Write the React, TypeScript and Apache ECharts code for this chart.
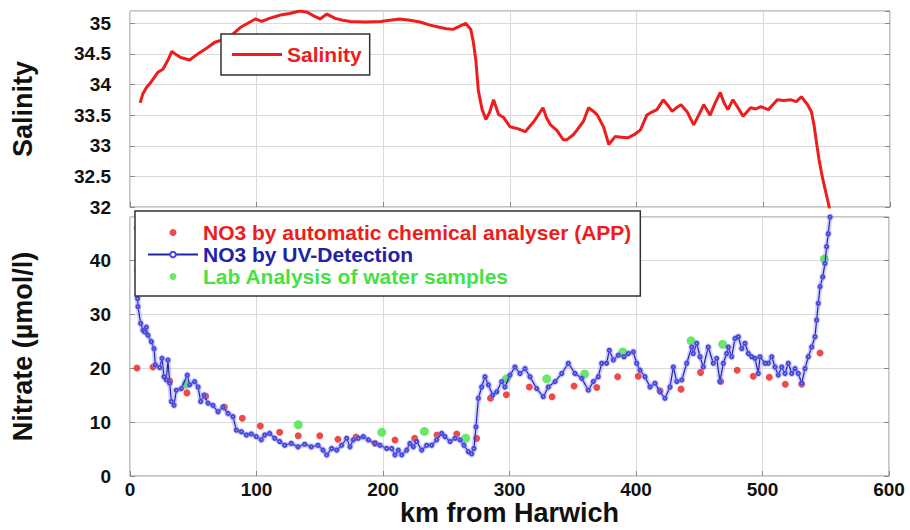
import React, { useEffect, useRef } from "react";
import * as echarts from "echarts";

// Salinity along the transect (top panel)
const salKm = [8, 10, 13, 17, 22, 26, 30, 33, 37, 40, 47, 55, 61, 67, 75, 81, 87, 93, 99, 104, 110, 115, 120, 126, 134, 140, 145, 150, 155.5, 162, 168, 174, 186, 198, 205, 213, 221, 229, 237, 245, 250, 255, 260, 265, 269, 271, 273, 275, 278, 281, 284, 287, 291, 295, 300, 306, 312, 319, 326, 329, 332, 337, 342, 345, 350, 353, 358, 362, 366, 369, 374, 378, 383, 388, 393, 398, 403, 408, 412, 416, 421, 425, 428, 432, 435, 440, 445, 449, 453, 458, 462, 466, 469, 472, 476, 480, 484, 490, 494, 498, 504, 508, 511, 516, 522, 526, 530, 535, 538, 540, 542, 544, 546, 548, 550, 552, 553];
const salinity = [33.7, 33.84, 33.95, 34.05, 34.2, 34.25, 34.4, 34.54, 34.48, 34.44, 34.4, 34.52, 34.6, 34.69, 34.74, 34.82, 34.93, 35.0, 35.07, 35.03, 35.08, 35.11, 35.14, 35.16, 35.2, 35.18, 35.12, 35.07, 35.15, 35.08, 35.05, 35.03, 35.02, 35.03, 35.05, 35.07, 35.05, 35.02, 34.97, 34.93, 34.91, 34.9, 34.95, 35.0, 34.9, 34.7, 34.4, 33.9, 33.59, 33.43, 33.55, 33.75, 33.51, 33.46, 33.31, 33.28, 33.23, 33.4, 33.62, 33.45, 33.34, 33.25, 33.1, 33.1, 33.18, 33.26, 33.4, 33.62, 33.56, 33.5, 33.3, 33.02, 33.15, 33.14, 33.13, 33.18, 33.26, 33.5, 33.55, 33.59, 33.75, 33.65, 33.56, 33.63, 33.67, 33.55, 33.34, 33.5, 33.67, 33.5, 33.7, 33.87, 33.7, 33.59, 33.75, 33.62, 33.48, 33.62, 33.6, 33.64, 33.59, 33.68, 33.75, 33.74, 33.75, 33.72, 33.8, 33.67, 33.55, 33.34, 33.05, 32.77, 32.55, 32.36, 32.18, 32.0, 31.85];

// NO3 by UV-Detection (bottom panel, continuous)
const uvKm = [5.4, 5.7, 6.0, 6.3, 8.4, 10.3, 11.6, 12.9, 14.2, 16.9, 19.0, 20.0, 23.5, 25.3, 26.9, 28.7, 30.0, 31.4, 32.7, 34.8, 36.6, 40.6, 45.3, 47.2, 51.1, 53.8, 55.9, 58.5, 61.7, 65.6, 69.6, 73.5, 77.5, 81.4, 84.1, 88.0, 92.0, 95.9, 99.8, 103.8, 106.5, 110.4, 114.4, 118.3, 122.3, 127.5, 132.8, 138.1, 143.3, 148.6, 152.6, 155.5, 159.4, 163.4, 167.3, 171.3, 173.9, 176.5, 180.5, 184.4, 188.4, 193.7, 197.6, 202.9, 206.9, 209.5, 212.1, 214.8, 218.7, 221.3, 224.0, 226.6, 230.6, 234.5, 238.5, 242.4, 246.4, 249.0, 253.0, 256.9, 260.9, 264.0, 267.5, 270.1, 271.9, 273.5, 275.4, 278.0, 280.6, 283.3, 286.7, 289.9, 293.8, 296.4, 300.4, 304.3, 308.3, 312.3, 316.2, 321.5, 326.7, 330.7, 336.0, 341.3, 346.5, 351.8, 357.1, 362.3, 366.3, 370.2, 372.9, 376.8, 378.9, 382.1, 386.0, 390.5, 393.9, 397.9, 400.5, 403.2, 407.1, 411.1, 415.0, 419.0, 422.9, 426.9, 429.5, 432.2, 436.2, 440.1, 444.1, 445.3, 448.0, 450.6, 453.2, 457.1, 461.1, 463.8, 466.4, 469.0, 471.7, 473.0, 475.6, 478.3, 480.9, 483.6, 486.2, 488.8, 491.5, 494.1, 496.7, 498.0, 502.0, 504.6, 507.3, 509.9, 512.5, 515.2, 517.8, 520.4, 523.1, 525.7, 528.3, 531.0, 533.6, 536.2, 538.9, 541.5, 542.8, 544.1, 545.5, 547.6, 549.4, 550.7, 552.0, 553.4];
const uvNitrate = [46, 38, 32.9, 31.4, 28.3, 27.0, 26.7, 27.6, 26.1, 24.9, 23.6, 20.6, 20.1, 21.8, 18.4, 17.8, 21.5, 17.2, 13.8, 13.1, 15.9, 16.2, 18.7, 16.9, 17.5, 16.5, 13.8, 15.0, 13.5, 13.1, 11.9, 12.8, 11.6, 11.0, 8.5, 8.2, 7.6, 7.8, 7.3, 6.7, 7.6, 7.9, 7.0, 6.4, 5.7, 6.05, 5.4, 5.9, 5.4, 5.7, 4.8, 3.9, 5.1, 4.8, 5.7, 7.0, 5.4, 6.7, 7.0, 7.3, 6.7, 6.05, 5.7, 5.1, 5.1, 3.9, 4.8, 3.9, 4.8, 6.05, 5.4, 6.4, 4.8, 5.7, 5.7, 6.7, 7.9, 7.3, 6.4, 7.0, 6.7, 5.7, 4.5, 4.1, 5.1, 9.1, 14.4, 16.5, 18.4, 16.9, 15.0, 15.6, 17.5, 16.5, 18.7, 20.2, 19.0, 19.9, 18.4, 16.2, 14.7, 16.5, 17.5, 19.0, 20.9, 19.0, 18.1, 15.9, 17.5, 18.4, 20.9, 20.9, 23.3, 21.5, 22.4, 22.1, 22.7, 23.0, 20.9, 19.6, 18.4, 16.5, 17.2, 15.6, 14.4, 16.5, 20.2, 17.5, 17.8, 20.9, 23.9, 22.7, 24.6, 22.1, 20.2, 23.9, 20.9, 21.8, 17.5, 20.9, 22.7, 23.9, 22.1, 25.5, 25.8, 23.6, 24.6, 22.7, 22.1, 21.8, 19.0, 22.1, 20.9, 20.9, 22.1, 20.2, 18.7, 20.2, 19.0, 20.9, 19.0, 19.9, 19.0, 17.2, 19.9, 22.1, 23.9, 25.8, 28.9, 32.0, 35.1, 36.9, 39.4, 42.5, 44.9, 48.0];

// NO3 by automatic chemical analyser (APP)
const appKm = [5.5, 18.2, 31.4, 45, 59.8, 74.6, 88.8, 103, 118.3, 133, 150, 164.4, 178.7, 193.7, 209.5, 225, 242.7, 258.3, 274, 285, 297.5, 315.7, 333.6, 351, 369, 385.5, 401.8, 419, 435.6, 451, 467, 480, 492.7, 505.4, 518, 531, 545.5];
const appNitrate = [20.0, 20.2, 17.6, 15.4, 14.8, 12.8, 10.7, 9.26, 8.1, 7.47, 7.47, 6.8, 7.2, 6.05, 6.67, 6.97, 7.6, 7.78, 6.97, 14.4, 15.06, 16.5, 14.7, 16.67, 16.4, 18.4, 18.5, 15.8, 16.1, 19.2, 17.5, 19.6, 18.5, 18.3, 17.0, 17.0, 22.8];

// Lab Analysis of water samples
const labKm = [44.5, 133, 199, 232.7, 265.4, 297.5, 329.4, 359.4, 389.5, 443.5, 468.5, 548.9];
const labNitrate = [17.0, 9.5, 8.1, 8.27, 7.0, 18.0, 18.0, 18.9, 23.0, 25.06, 24.4, 40.2];

const xTicksMin = 0;
const xTicksMax = 600;
const xTickStep = 100;

const zip = (a: number[], b: number[]) => a.map((x, i) => [x, b[i]]);

const FONT = "'Liberation Sans', Arial, Helvetica, sans-serif";
const RED = "#ee1c1c";
const BLUE = "#2222a8";
const GREEN = "#44e244";

export default function App() {
  const ref = useRef<HTMLDivElement>(null);
  useEffect(() => {
    if (!ref.current) return;
    const chart = echarts.init(ref.current, null, { renderer: "svg" });
    const splitLine = { show: true, lineStyle: { color: "#dadada", width: 1 } };
    const tickLabel = { fontFamily: FONT, fontWeight: "bold", fontSize: 19, color: "#111" };
    const titleStyle = { fontFamily: FONT, fontWeight: "bold", fontSize: 27, color: "#111" };
    const inTick = { show: true, inside: true, length: 5, lineStyle: { color: "#888" } };
    chart.setOption({
      animation: false,
      backgroundColor: "#ffffff",
      grid: [
        { left: 130, top: 11, width: 760, height: 196, show: true, borderColor: "#8a8a8a", borderWidth: 1, backgroundColor: "transparent" },
        { left: 130, top: 217, width: 759, height: 259, show: true, borderColor: "#8a8a8a", borderWidth: 1, backgroundColor: "transparent" },
      ],
      xAxis: [
        {
          type: "value", gridIndex: 0, min: xTicksMin, max: xTicksMax, interval: xTickStep,
          axisLabel: { show: false }, axisLine: { show: false }, axisTick: inTick, splitLine,
        },
        {
          type: "value", gridIndex: 1, min: xTicksMin, max: xTicksMax, interval: xTickStep,
          name: "km from Harwich", nameLocation: "middle", nameGap: 22, nameTextStyle: titleStyle,
          axisLabel: { ...tickLabel, margin: 4 }, axisLine: { show: false }, axisTick: inTick, splitLine,
        },
      ],
      yAxis: [
        {
          type: "value", gridIndex: 0, min: 32, max: 35.2, interval: 0.5,
          name: "Salinity", nameLocation: "middle", nameGap: 94, nameTextStyle: titleStyle,
          axisLabel: { ...tickLabel, margin: 19, showMaxLabel: false }, axisLine: { show: false },
          axisTick: inTick, splitLine,
        },
        {
          type: "value", gridIndex: 1, min: 0, max: 48, interval: 10,
          name: "Nitrate (µmol/l)", nameLocation: "middle", nameGap: 94, nameTextStyle: titleStyle,
          axisLabel: { ...tickLabel, margin: 19, showMaxLabel: false }, axisLine: { show: false },
          axisTick: inTick, splitLine,
        },
        {
          type: "value", gridIndex: 0, position: "right", min: 32, max: 35.2, interval: 0.5,
          axisLabel: { show: false }, axisLine: { show: false }, axisTick: inTick, splitLine: { show: false },
        },
        {
          type: "value", gridIndex: 1, position: "right", min: 0, max: 48, interval: 10,
          axisLabel: { show: false }, axisLine: { show: false }, axisTick: inTick, splitLine: { show: false },
        },
      ],
      legend: [
        {
          left: 221, top: 34, orient: "horizontal", selectedMode: false,
          data: [{ name: "Salinity", icon: "rect", textStyle: { color: RED } }],
          backgroundColor: "#fff", borderColor: "#333", borderWidth: 1.5,
          padding: [10, 8, 10, 11], itemWidth: 50, itemHeight: 3,
          textStyle: { fontFamily: FONT, fontWeight: "bold", fontSize: 21 },
        },
        {
          left: 135, top: 211, orient: "vertical", selectedMode: false,
          data: [
            { name: "NO3 by automatic chemical analyser (APP)", textStyle: { color: RED } },
            { name: "NO3 by UV-Detection", textStyle: { color: BLUE } },
            { name: "Lab Analysis of water samples", textStyle: { color: GREEN } },
          ],
          backgroundColor: "#fff", borderColor: "#333", borderWidth: 1.5,
          padding: [11, 9, 9, 12], itemWidth: 50, itemHeight: 7, itemGap: 1,
          textStyle: { fontFamily: FONT, fontWeight: "bold", fontSize: 21 },
        },
      ],
      series: [
        {
          name: "Salinity", type: "line", xAxisIndex: 0, yAxisIndex: 0,
          data: zip(salKm, salinity), symbol: "none",
          lineStyle: { color: RED, width: 3 }, itemStyle: { color: RED },
        },
        {
          name: "uv-halo", type: "line", xAxisIndex: 1, yAxisIndex: 1,
          data: zip(uvKm, uvNitrate), symbol: "circle", symbolSize: 7, silent: true,
          lineStyle: { color: "rgba(130,130,255,0.35)", width: 5 },
          itemStyle: { color: "rgba(140,140,255,0.45)" },
        },
        {
          name: "NO3 by UV-Detection", type: "line", xAxisIndex: 1, yAxisIndex: 1,
          data: zip(uvKm, uvNitrate), symbol: "emptyCircle", symbolSize: 3,
          lineStyle: { color: BLUE, width: 1.2 },
          itemStyle: { color: "#4848d8", borderWidth: 1 },
        },
        {
          name: "NO3 by automatic chemical analyser (APP)", type: "scatter", xAxisIndex: 1, yAxisIndex: 1,
          data: zip(appKm, appNitrate), symbol: "circle", symbolSize: 7,
          itemStyle: { color: RED },
        },
        {
          name: "Lab Analysis of water samples", type: "scatter", xAxisIndex: 1, yAxisIndex: 1,
          data: zip(labKm, labNitrate), symbol: "circle", symbolSize: 9,
          itemStyle: { color: GREEN },
        },
      ],
    });
    return () => chart.dispose();
  }, []);
  return (
    <div
      ref={ref}
      style={{ position: "fixed", left: 0, top: 0, width: 910, height: 530, background: "#fff" }}
    />
  );
}
